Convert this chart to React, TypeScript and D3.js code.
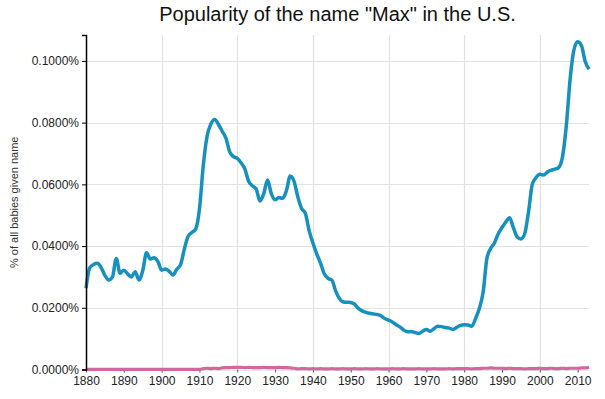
import React, { useRef, useEffect } from 'react';
import * as d3 from 'd3';

const W = 605;
const H = 399;

// years 1880..2013
const startYear = 1880;
const endYear = 2013;

// % of boys named Max (blue), read per year
const maleValues = [
  0.0263, 0.0330, 0.0340, 0.0344, 0.0330, 0.0305, 0.0290, 0.0300, 0.0360, 0.0312, // 1880s
  0.0322, 0.0310, 0.0300, 0.0317, 0.0290, 0.0320, 0.0378, 0.0358, 0.0362, 0.0350, // 1890s
  0.0322, 0.0326, 0.0318, 0.0306, 0.0325, 0.0340, 0.0390, 0.0432, 0.0444, 0.0455, // 1900s
  0.0520, 0.0660, 0.0755, 0.0795, 0.0810, 0.0795, 0.0772, 0.0750, 0.0705, 0.0690, // 1910s
  0.0684, 0.0670, 0.0650, 0.0610, 0.0595, 0.0585, 0.0546, 0.0570, 0.0614, 0.0570, // 1920s
  0.0550, 0.0557, 0.0555, 0.0580, 0.0627, 0.0610, 0.0560, 0.0522, 0.0506, 0.0450, // 1930s
  0.0410, 0.0375, 0.0345, 0.0310, 0.0295, 0.0290, 0.0255, 0.0230, 0.0219, 0.0218, // 1940s
  0.0217, 0.0212, 0.0198, 0.0190, 0.0185, 0.0182, 0.0180, 0.0178, 0.0174, 0.0165, // 1950s
  0.0160, 0.0154, 0.0145, 0.0138, 0.0128, 0.0122, 0.0123, 0.0120, 0.0117, 0.0124, // 1960s
  0.0130, 0.0124, 0.0132, 0.0140, 0.0139, 0.0136, 0.0134, 0.0130, 0.0136, 0.0143, // 1970s
  0.0145, 0.0144, 0.0140, 0.0165, 0.0198, 0.0250, 0.0360, 0.0392, 0.0410, 0.0440, // 1980s
  0.0460, 0.0478, 0.0492, 0.0460, 0.0430, 0.0423, 0.0440, 0.0510, 0.0600, 0.0622, // 1990s
  0.0633, 0.0630, 0.0640, 0.0646, 0.0649, 0.0655, 0.0690, 0.0790, 0.0940, 0.1035, // 2000s
  0.1062, 0.1050, 0.0998, 0.0973, // 2010-2013
];

// % of girls named Max (pink)
const femaleValues = [
  0.00005, 0.00005, 0.00005, 0.00005, 0.00005, 0.00005, 0.00005, 0.00005, 0.00005, 0.00005,
  0.00005, 0.00005, 0.00005, 0.00005, 0.00005, 0.00005, 0.00005, 0.00005, 0.00005, 0.00005,
  0.00005, 0.00005, 0.00005, 0.00005, 0.00005, 0.00005, 0.00005, 0.00005, 0.00005, 0.00005,
  0.00005, 0.0003, 0.0004, 0.0003, 0.0004, 0.0003, 0.0005, 0.0006, 0.0006, 0.0007,
  0.0007, 0.0007, 0.0006, 0.0007, 0.0006, 0.0006, 0.0006, 0.0007, 0.0006, 0.0006,
  0.0006, 0.0007, 0.0006, 0.0006, 0.0005, 0.0004, 0.0002, 0.0003, 0.0003, 0.0002,
  0.0003, 0.0002, 0.0003, 0.0002, 0.0002, 0.0003, 0.0002, 0.0002, 0.0003, 0.0002,
  0.0002, 0.0003, 0.0002, 0.0002, 0.0003, 0.0002, 0.0002, 0.0003, 0.0002, 0.0002,
  0.0002, 0.0003, 0.0002, 0.0002, 0.0003, 0.0002, 0.0002, 0.0002, 0.0003, 0.0002,
  0.0002, 0.0002, 0.0003, 0.0002, 0.0002, 0.0002, 0.0003, 0.0002, 0.0003, 0.0003,
  0.0003, 0.0003, 0.0002, 0.0003, 0.0003, 0.0004, 0.0004, 0.0005, 0.0004, 0.0004,
  0.0004, 0.0003, 0.0004, 0.0003, 0.0003, 0.0003, 0.0002, 0.0003, 0.0003, 0.0003,
  0.0004, 0.0003, 0.0003, 0.0004, 0.0003, 0.0003, 0.0004, 0.0003, 0.0004, 0.0004,
  0.0004, 0.0005, 0.0005, 0.0007,
];

const yTicks = [0, 0.02, 0.04, 0.06, 0.08, 0.1];
const xTicks = d3.range(1880, 2011, 10);
const xGrid = [1900, 1920, 1940, 1960, 1980, 2000];

const BLUE = '#1690bf';
const PINK = '#d3679d';

export default function App() {
  const svgRef = useRef<SVGSVGElement>(null);

  useEffect(() => {
    if (!svgRef.current) return;
    const svg = d3.select(svgRef.current);
    svg.selectAll('*').remove();

    const left = 86, right = 589, top = 35, bottom = 369.5;
    const years = d3.range(startYear, endYear + 1);

    const x = d3.scaleLinear().domain([startYear, endYear]).range([left, right]);
    const y = d3.scaleLinear().domain([0, 0.1084]).range([bottom, top]);

    // grid
    const grid = svg.append('g');
    grid.selectAll('line.h').data(yTicks).join('line')
      .attr('x1', left).attr('x2', right)
      .attr('y1', d => Math.round(y(d)) + 0.5).attr('y2', d => Math.round(y(d)) + 0.5)
      .attr('stroke', '#e2e2e2').attr('stroke-width', 1.2);
    grid.selectAll('line.v').data(xGrid).join('line')
      .attr('x1', d => Math.round(x(d)) + 0.5).attr('x2', d => Math.round(x(d)) + 0.5)
      .attr('y1', top).attr('y2', bottom)
      .attr('stroke', '#e2e2e2').attr('stroke-width', 1.2);

    // x axis (ticks + labels only)
    const xa = svg.append('g').attr('transform', `translate(0,${bottom})`)
      .call(d3.axisBottom(x).tickValues(xTicks).tickFormat(d3.format('d')).tickSize(3).tickPadding(4));
    xa.select('.domain').remove();
    xa.selectAll('line').attr('stroke', '#555');
    xa.selectAll('text').style('font-size', '12px').style('font-family', 'Arial, "Liberation Sans", sans-serif').style('fill', '#222');

    // lines
    const line = d3.line<number>()
      .x((_, i) => x(years[i]))
      .y(d => y(d))
      .curve(d3.curveMonotoneX);

    svg.append('path').datum(femaleValues)
      .attr('fill', 'none').attr('stroke', PINK).attr('stroke-width', 3.2)
      .attr('stroke-linejoin', 'round').attr('d', line);

    svg.append('path').datum(maleValues)
      .attr('fill', 'none').attr('stroke', BLUE).attr('stroke-width', 3.5)
      .attr('stroke-linejoin', 'round').attr('stroke-linecap', 'butt').attr('d', line);

    // y axis
    const ya = svg.append('g').attr('transform', `translate(${left},0)`)
      .call(d3.axisLeft(y).tickValues(yTicks).tickFormat(d => (+d).toFixed(4) + '%').tickSize(4).tickPadding(3));
    ya.select('.domain').attr('stroke', '#000').attr('stroke-width', 1.5);
    ya.selectAll('line').attr('stroke', '#000');
    ya.selectAll('text').style('font-size', '12px').style('font-family', 'Arial, "Liberation Sans", sans-serif').style('fill', '#222');

    // title
    svg.append('text')
      .attr('x', (left + right) / 2).attr('y', 21)
      .attr('text-anchor', 'middle')
      .style('font-size', '20px').style('font-family', 'Arial, "Liberation Sans", sans-serif').style('fill', '#111')
      .text('Popularity of the name "Max" in the U.S.');

    // y label
    svg.append('text')
      .attr('transform', `translate(18,${(top + bottom) / 2}) rotate(-90)`)
      .attr('text-anchor', 'middle')
      .style('font-size', '11px').style('font-family', 'Arial, "Liberation Sans", sans-serif').style('fill', '#333')
      .text('% of all babies given name');
  }, []);

  return (
    <svg ref={svgRef} width={W} height={H}
      style={{ position: 'absolute', left: 0, top: 0, background: '#fff' }} />
  );
}
